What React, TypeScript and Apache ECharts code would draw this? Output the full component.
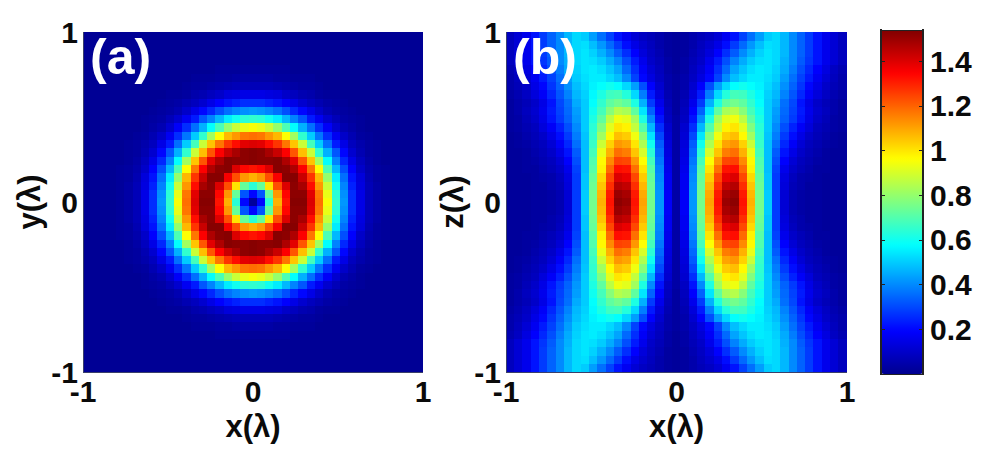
import React, { useEffect, useRef } from "react";
import * as echarts from "echarts";

// Readings from the picture: one quadrant of each panel, rows and columns counted outward from the centre.
const panelAQuadrant: number[][] = [
  [.02,.2,.64,1.08,1.32,1.53,1.53,1.4,1.18,.95,.65,.42,.26,.15,.07,.04,.02],
  [.2,.32,.73,1.12,1.34,1.52,1.52,1.39,1.17,.93,.64,.41,.26,.15,.07,.04,.02],
  [.64,.73,1.0,1.23,1.4,1.52,1.48,1.33,1.12,.88,.6,.39,.24,.14,.07,.04,.02],
  [1.08,1.12,1.23,1.36,1.53,1.53,1.43,1.27,1.07,.8,.55,.36,.22,.13,.06,.03,.02],
  [1.32,1.34,1.4,1.53,1.52,1.47,1.35,1.17,.96,.69,.47,.31,.19,.1,.05,.03,.02],
  [1.53,1.52,1.52,1.53,1.47,1.39,1.22,1.05,.82,.58,.39,.25,.15,.08,.04,.02,.01],
  [1.53,1.52,1.48,1.43,1.35,1.22,1.06,.88,.65,.46,.32,.2,.11,.06,.03,.02,.01],
  [1.4,1.39,1.33,1.27,1.17,1.05,.88,.68,.5,.36,.23,.15,.08,.05,.03,.02,.01],
  [1.18,1.17,1.12,1.07,.96,.82,.65,.5,.37,.26,.17,.1,.06,.03,.02,.01,.01],
  [.95,.93,.88,.8,.69,.58,.46,.36,.26,.18,.11,.06,.04,.02,.01,.01,.01],
  [.65,.64,.6,.55,.47,.39,.32,.23,.17,.11,.07,.04,.03,.02,.01,.01,.01],
  [.42,.41,.39,.36,.31,.25,.2,.15,.1,.06,.04,.03,.02,.01,.01,.01,.01],
  [.26,.26,.24,.22,.19,.15,.11,.08,.06,.04,.03,.02,.01,.01,.01,.01,.01],
  [.15,.15,.14,.13,.1,.08,.06,.05,.03,.02,.02,.01,.01,.01,.01,.01,.01],
  [.07,.07,.07,.06,.05,.04,.03,.03,.02,.01,.01,.01,.01,.01,.01,.01,.01],
  [.04,.04,.04,.03,.03,.02,.02,.02,.01,.01,.01,.01,.01,.01,.01,.01,.01],
  [.02,.02,.02,.02,.02,.01,.01,.01,.01,.01,.01,.01,.01,.01,.01,.01,.01],
];
const panelBQuadrant: number[][] = [
  [.04,.18,.42,.75,1.1,1.32,1.5,1.52,1.32,1.08,.75,.5,.28,.12,.06,.04,.03,.03,.02,.02,.02],
  [.04,.18,.42,.75,1.09,1.31,1.48,1.5,1.31,1.07,.75,.5,.28,.12,.06,.04,.03,.03,.02,.02,.02],
  [.04,.17,.41,.74,1.07,1.28,1.44,1.46,1.28,1.05,.74,.49,.28,.13,.07,.05,.03,.03,.02,.02,.02],
  [.04,.17,.4,.73,1.04,1.24,1.38,1.4,1.24,1.02,.73,.49,.28,.14,.08,.05,.04,.03,.02,.02,.02],
  [.04,.16,.39,.71,1.0,1.18,1.32,1.33,1.19,.98,.71,.48,.29,.16,.1,.07,.05,.03,.03,.02,.02],
  [.04,.15,.37,.68,.96,1.12,1.24,1.25,1.14,.97,.7,.48,.31,.19,.12,.08,.06,.04,.03,.02,.02],
  [.04,.14,.35,.64,.9,1.05,1.16,1.18,1.08,.93,.68,.48,.33,.22,.15,.1,.07,.05,.03,.02,.02],
  [.04,.13,.33,.6,.84,1.0,1.1,1.12,1.03,.88,.66,.48,.36,.25,.18,.12,.08,.06,.04,.03,.02],
  [.04,.12,.3,.54,.78,.94,1.04,1.06,.97,.82,.65,.49,.38,.28,.21,.15,.1,.07,.05,.03,.02],
  [.04,.11,.26,.47,.7,.87,.98,1.0,.92,.77,.64,.5,.4,.31,.24,.18,.13,.08,.06,.04,.03],
  [.04,.09,.22,.4,.62,.82,.92,.94,.86,.72,.62,.5,.42,.34,.28,.22,.15,.1,.07,.04,.03],
  [.03,.08,.19,.34,.54,.72,.83,.85,.78,.68,.6,.5,.43,.35,.29,.23,.16,.11,.08,.05,.03],
  [.03,.07,.16,.28,.46,.62,.72,.75,.72,.65,.58,.5,.45,.36,.3,.22,.15,.1,.07,.05,.03],
  [.03,.06,.13,.23,.38,.52,.63,.68,.67,.62,.57,.51,.47,.39,.32,.25,.18,.13,.09,.06,.04],
  [.03,.05,.11,.19,.31,.43,.52,.58,.6,.58,.56,.52,.48,.41,.34,.27,.2,.15,.1,.07,.05],
  [.03,.05,.09,.14,.2,.29,.4,.48,.52,.55,.55,.53,.5,.43,.36,.29,.23,.17,.12,.08,.05],
  [.02,.04,.08,.12,.18,.26,.35,.44,.49,.53,.55,.54,.51,.45,.38,.31,.25,.19,.14,.09,.06],
  [.02,.04,.07,.1,.16,.23,.31,.39,.45,.5,.53,.54,.52,.46,.4,.33,.27,.22,.16,.12,.08],
  [.02,.03,.06,.09,.13,.19,.26,.33,.4,.46,.51,.54,.52,.47,.4,.34,.28,.22,.16,.12,.08],
  [.02,.03,.05,.08,.11,.15,.21,.28,.35,.42,.48,.53,.52,.47,.4,.34,.28,.22,.16,.12,.08],
  [.02,.03,.05,.07,.09,.12,.17,.22,.29,.36,.43,.5,.52,.47,.4,.34,.28,.22,.16,.12,.08],
];
const cellOffsets = Array.from({ length: 41 }, (_, i) => i - 20);
const jetColors = ["#00008f","#0000ff","#0080ff","#00ffff","#80ff80","#ffff00","#ff8000","#ff0000","#800000"];
const colorMin = 0;
const colorMax = 1.54;

const FONT = "Liberation Sans";
const TICK = { fontFamily: FONT, fontWeight: "bold" as const, fontSize: 30, color: "#0a0a0a" };

function cells(quadrant: number[][]) {
  const out: number[][] = [];
  cellOffsets.forEach((y, yi) =>
    cellOffsets.forEach((x, xi) => {
      const row = quadrant[Math.abs(y)] || [];
      const v = row[Math.abs(x)];
      out.push([xi, yi, v === undefined ? 0.01 : v]);
    })
  );
  return out;
}

const hiddenCat = (gridIndex: number) => ({
  type: "category" as const, gridIndex, data: cellOffsets.map(String), show: false,
});
const frameX = (gridIndex: number, name: string) => ({
  type: "value" as const, gridIndex, position: "bottom" as const, min: -1, max: 1, interval: 1, z: 5,
  name, nameLocation: "middle" as const, nameGap: 36,
  nameTextStyle: { ...TICK, fontSize: 31 },
  axisLine: { show: true, onZero: false, lineStyle: { color: "#3a3f6a", width: 1 } },
  axisTick: { show: false }, splitLine: { show: false },
  axisLabel: { ...TICK, lineHeight: 20, margin: 9, showMinLabel: true, showMaxLabel: true },
});
const frameY = (gridIndex: number, name: string) => ({
  type: "value" as const, gridIndex, position: "left" as const, min: -1, max: 1, interval: 1, z: 5,
  name, nameLocation: "middle" as const, nameGap: 38, nameRotate: 90,
  nameTextStyle: { ...TICK, fontSize: 31 },
  axisLine: { show: true, onZero: false, lineStyle: { color: "#3a3f6a", width: 1 } },
  axisTick: { show: false }, splitLine: { show: false },
  axisLabel: { ...TICK, lineHeight: 20, margin: 5, showMinLabel: true, showMaxLabel: true },
});

export default function App() {
  const ref = useRef<HTMLDivElement>(null);
  useEffect(() => {
    document.body.style.margin = "0";
    const chart = echarts.init(ref.current!, undefined, { renderer: "svg" });
    chart.setOption({
      animation: false,
      backgroundColor: "#ffffff",
      grid: [
        { left: 83, top: 32, width: 340, height: 340, outerBoundsMode: "none" },
        { left: 506, top: 32, width: 341, height: 340, outerBoundsMode: "none" },
        { left: 881, top: 30, width: 42, height: 344, outerBoundsMode: "none" },
      ],
      xAxis: [
        hiddenCat(0), frameX(0, "x(λ)"),
        hiddenCat(1), frameX(1, "x(λ)"),
        { type: "value", gridIndex: 2, position: "bottom", min: 0, max: 1, z: 5, axisLabel: { show: false }, axisTick: { show: false },
          splitLine: { show: false }, axisLine: { show: true, onZero: false, lineStyle: { color: "#222", width: 1 } } },
        { type: "value", gridIndex: 2, position: "top", min: 0, max: 1, z: 5, axisLabel: { show: false }, axisTick: { show: false },
          splitLine: { show: false }, axisLine: { show: true, onZero: false, lineStyle: { color: "#222", width: 1 } } },
      ],
      yAxis: [
        hiddenCat(0), frameY(0, "y(λ)"),
        hiddenCat(1), frameY(1, "z(λ)"),
        { type: "value", gridIndex: 2, position: "left", min: colorMin, max: colorMax, interval: 0.2, z: 5,
          axisLabel: { show: false }, splitLine: { show: false },
          axisLine: { show: true, onZero: false, lineStyle: { color: "#222", width: 1.5 } },
          axisTick: { show: true, inside: true, length: 4, lineStyle: { color: "#222" } } },
        { type: "value", gridIndex: 2, position: "right", min: colorMin, max: colorMax, interval: 0.2, z: 5,
          splitLine: { show: false },
          axisLine: { show: true, onZero: false, lineStyle: { color: "#222", width: 1.5 } },
          axisTick: { show: true, inside: true, length: 4, lineStyle: { color: "#222" } },
          axisLabel: { ...TICK, margin: 7, showMinLabel: false, showMaxLabel: false, align: "left" } },
      ],
      visualMap: {
        type: "continuous", min: colorMin, max: colorMax, seriesIndex: [0, 1], dimension: 2,
        left: 881, top: 30, itemWidth: 42, itemHeight: 344, padding: 0, calculable: false, realtime: false,
        hoverLink: false, inRange: { color: jetColors }, textStyle: { fontSize: 0 }, text: ["", ""],
      },
      series: [
        { type: "heatmap", xAxisIndex: 0, yAxisIndex: 0, data: cells(panelAQuadrant), progressive: 0, silent: true },
        { type: "heatmap", xAxisIndex: 2, yAxisIndex: 2, data: cells(panelBQuadrant), progressive: 0, silent: true },
      ],
      graphic: [
        { type: "text", left: 90, top: 32, z: 100, style: { text: "(a)", fontFamily: FONT, fontWeight: "bold", fontSize: 50, fill: "#ffffff" } },
        { type: "text", left: 513, top: 32, z: 100, style: { text: "(b)", fontFamily: FONT, fontWeight: "bold", fontSize: 50, fill: "#ffffff" } },
      ],
    });
    return () => chart.dispose();
  }, []);
  return (
    <>
      <style>{"svg path { shape-rendering: crispEdges; }"}</style>
      <div ref={ref} style={{ width: 1004, height: 449 }} />
    </>
  );
}
